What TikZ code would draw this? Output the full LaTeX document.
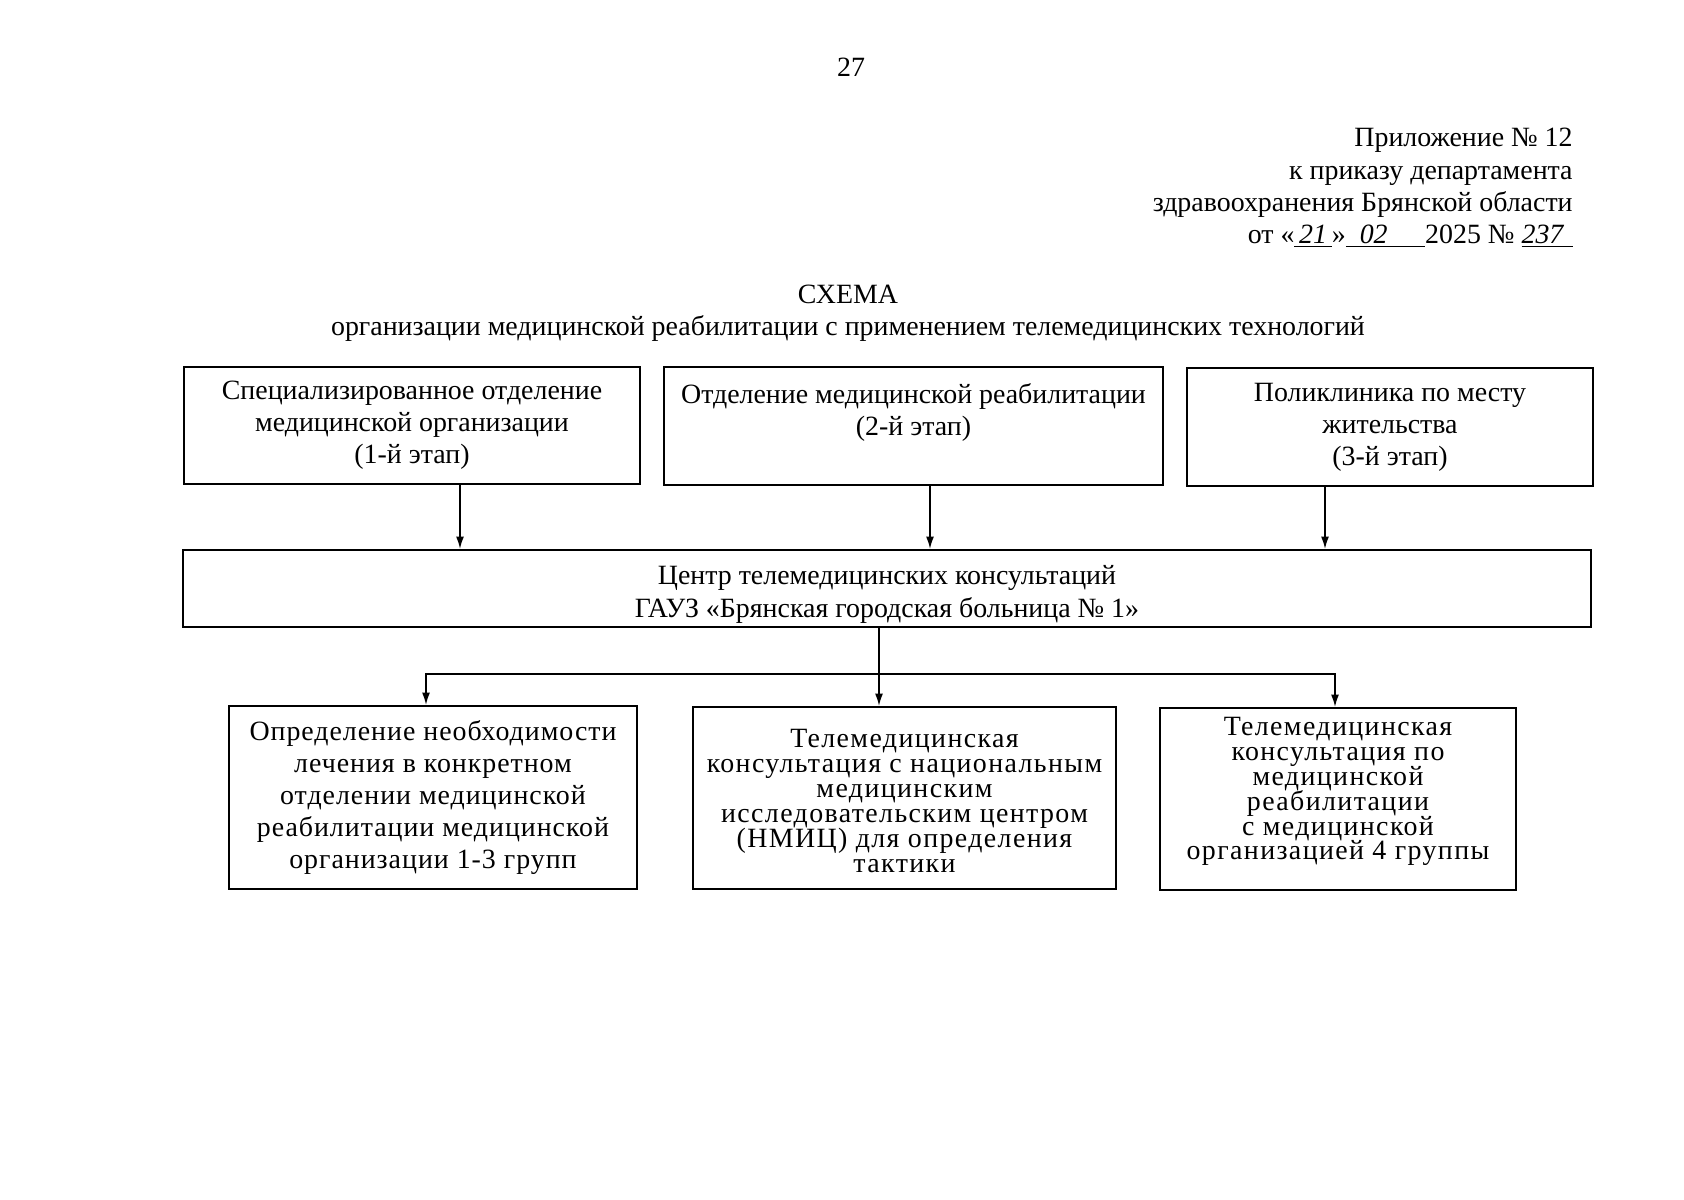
\documentclass[tikz,border=0pt]{standalone}
\usepackage{fontspec}
\setmainfont{Liberation Serif}
\usetikzlibrary{arrows.meta, positioning, calc}

\newdimen\pxu
\pxu=0.17637mm
\setlength{\lineskiplimit}{-20pt}
\newcommand{\handw}[3]{\underline{\makebox[#1][#2]{\itshape #3}}}

\begin{document}
\begin{tikzpicture}[x=\pxu, y=-\pxu,
    txt/.style={inner sep=0pt, font=\fontsize{14pt}{16.1pt}\selectfont},
    box/.style={draw, line width=0.9pt, align=center, inner sep=0pt, font=\fontsize{14pt}{16.1pt}\selectfont},
    wide/.style={font=\fontsize{14pt}{16.1pt}\selectfont\addfontfeatures{LetterSpace=3.5}},
    tight/.style={font=\fontsize{14pt}{12.5pt}\selectfont\addfontfeatures{LetterSpace=5}},
    arr/.style={line width=0.9pt, -{Latex[length=2.2mm, width=1.4mm]}}]
    \useasboundingbox[fill=white] (0,0) rectangle (1684,1200);

    \node[txt] (pg) at (851,67) {27};
    \node[txt, align=right, anchor=east] (hdr) at (1573,188) {Приложение № 12\\к приказу департамента\\здравоохранения Брянской области\\от «\handw{6.6mm}{c}{21}»\handw{14mm}{l}{\ \ 02}2025 № \handw{9mm}{l}{237}};
    \node[txt] (ttl) at (848,294) {СХЕМА};
    \node[txt] (sub) at (848,328) {организации медицинской реабилитации с применением телемедицинских технологий};

    \node[box, minimum width=456*\pxu, minimum height=117*\pxu] (s1) at (412,425.5) {Специализированное отделение\\медицинской организации\\(1-й этап)};
    \node[box, minimum width=499*\pxu, minimum height=118*\pxu] (s2) at (913.5,426) {Отделение медицинской реабилитации\\(2-й этап)\\\mbox{}};
    \node[box, minimum width=406*\pxu, minimum height=118*\pxu] (s3) at (1390,427) {Поликлиника по месту\\жительства\\(3-й этап)};

    \node[box, minimum width=1408*\pxu, minimum height=77*\pxu] (ctr) at (887,588.5) {\rule{0pt}{15.5pt}Центр телемедицинских консультаций\\ГАУЗ «Брянская городская больница № 1»};

    \node[box, wide, minimum width=408*\pxu, minimum height=183*\pxu] (t1) at (433,797.5) {Определение необходимости\\лечения в конкретном\\отделении медицинской\\реабилитации медицинской\\организации 1-3 групп};
    \node[box, tight, minimum width=423*\pxu, minimum height=182*\pxu] (t2) at (904.5,798) {\rule{0pt}{12pt}Телемедицинская\\консультация с национальным\\медицинским\\исследовательским центром\\(НМИЦ) для определения\\тактики};
    \node[box, tight, minimum width=356*\pxu, minimum height=182*\pxu] (t3) at (1338,799) {Телемедицинская\\консультация по\\медицинской\\реабилитации\\с медицинской\\организацией 4 группы\\[-2pt]\mbox{}};

    \coordinate (a1) at (460,0);
    \coordinate (a2) at (930,0);
    \coordinate (a3) at (1325,0);
    \coordinate (b0) at (879,0);
    \coordinate (d1) at (426,0);
    \coordinate (d3) at (1335,0);
    \coordinate (br) at (0,674);

    \draw[arr] (s1.south -| a1) -- (a1 |- ctr.north);
    \draw[arr] (s2.south -| a2) -- (a2 |- ctr.north);
    \draw[arr] (s3.south -| a3) -- (a3 |- ctr.north);

    \draw[arr] (ctr.south -| b0) -- (b0 |- t2.north);
    \draw[arr] (b0 |- br) -- (d1 |- br) -- (d1 |- t1.north);
    \draw[arr] (b0 |- br) -- (d3 |- br) -- (d3 |- t3.north);
\end{tikzpicture}
\end{document}
